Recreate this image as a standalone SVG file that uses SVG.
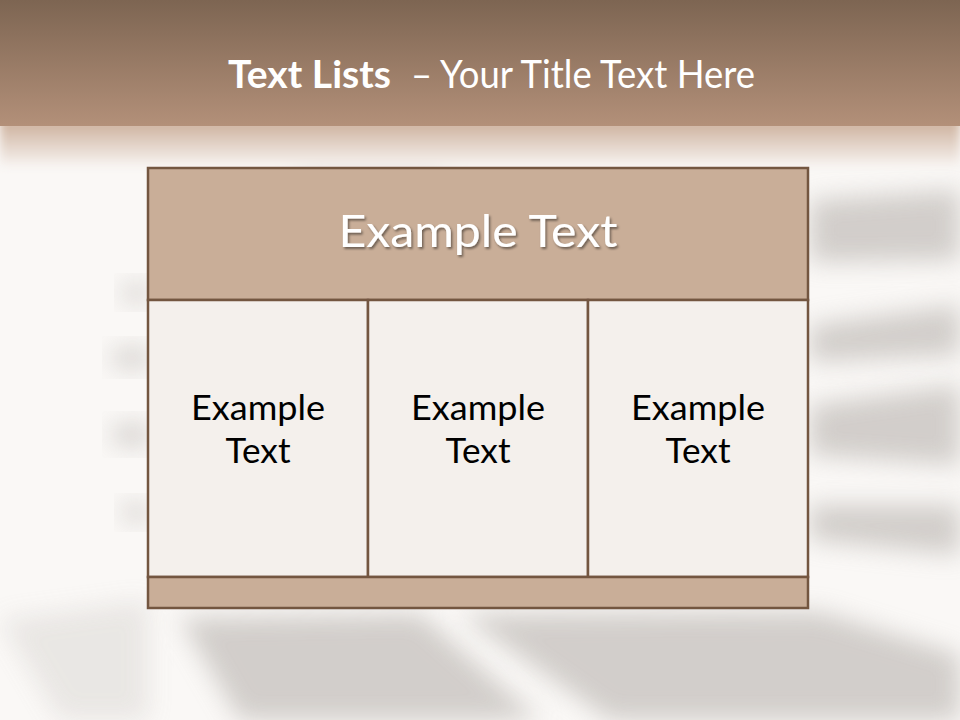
<svg xmlns="http://www.w3.org/2000/svg" width="960" height="720" viewBox="0 0 960 720">
<defs>
<linearGradient id="hdr" x1="0" y1="0" x2="0" y2="1">
<stop offset="0" stop-color="#7d6552"/>
<stop offset="1" stop-color="#b39079"/>
</linearGradient>
<linearGradient id="fade" x1="0" y1="0" x2="0" y2="1">
<stop offset="0" stop-color="#c9ab95"/>
<stop offset="1" stop-color="#f7f3f0"/>
</linearGradient>
<filter id="blur" x="-20%" y="-50%" width="140%" height="200%"><feGaussianBlur stdDeviation="12"/></filter>
<filter id="blur2" x="-20%" y="-50%" width="140%" height="200%"><feGaussianBlur stdDeviation="5"/></filter>
<filter id="shadow" x="-10%" y="-20%" width="120%" height="150%">
<feDropShadow dx="1.5" dy="2" stdDeviation="1.2" flood-color="#000" flood-opacity="0.45"/>
</filter>
<style>
.cell{fill:#f4f0ec;stroke:#735640;stroke-width:2.5}
.band{fill:#c9ae98;stroke:#735640;stroke-width:2.5}
.t{font-family:Lato,"Open Sans",sans-serif;text-anchor:middle}
.ct{font-size:34px;fill:#000}
.st{fill:#c4c0bc;filter:url(#blur)}
</style>
</defs>
<rect width="960" height="720" fill="#faf8f6"/>
<g opacity="0.75">
<path class="st" d="M810 200 L960 190 L960 260 L810 262 Z"/>
<path class="st" d="M810 325 L960 305 L960 355 L810 362 Z"/>
<path class="st" d="M810 405 L960 385 L960 465 L810 455 Z"/>
<path class="st" d="M810 505 L960 505 L960 555 L810 540 Z"/>
<path class="st" d="M120 288 L148 283 L148 302 L125 300 Z"/>
<path class="st" d="M110 352 L148 347 L148 368 L115 366 Z"/>
<path class="st" d="M110 428 L148 423 L148 446 L115 443 Z"/>
<path class="st" d="M120 507 L148 503 L148 522 L125 519 Z"/>
<path class="st" d="M180 618 L420 614 L540 720 L240 720 Z"/>
<path class="st" d="M460 614 L820 612 L960 655 L960 720 L610 720 Z"/>
<path class="st" d="M0 620 L148 600 L148 720 L60 720 Z" opacity="0.4"/>
<path class="st" d="M290 130 L460 128 L440 165 L300 165 Z" opacity="0.6"/>
</g>
<rect x="0" y="118" width="960" height="48" fill="url(#fade)" filter="url(#blur2)"/>
<rect x="0" y="0" width="960" height="126" fill="url(#hdr)"/>
<text font-family="Lato,'Open Sans',sans-serif" font-size="38" fill="#fff" y="88"><tspan x="228" font-weight="bold" textLength="163" lengthAdjust="spacingAndGlyphs">Text Lists</tspan><tspan x="411" textLength="344" lengthAdjust="spacingAndGlyphs">– Your Title Text Here</tspan></text>
<g id="header">
<rect class="band" x="148" y="168" width="660" height="132"/>
<text class="t" x="478" y="247" font-size="44" fill="#fff" filter="url(#shadow)" textLength="279" lengthAdjust="spacingAndGlyphs">Example Text</text>
</g>
<g id="cell1">
<rect class="cell" x="148" y="300" width="220" height="277"/>
<text class="t ct" x="258" y="420" textLength="134" lengthAdjust="spacingAndGlyphs">Example</text>
<text class="t ct" x="258" y="463" textLength="65" lengthAdjust="spacingAndGlyphs">Text</text>
</g>
<g id="cell2">
<rect class="cell" x="368" y="300" width="220" height="277"/>
<text class="t ct" x="478" y="420" textLength="134" lengthAdjust="spacingAndGlyphs">Example</text>
<text class="t ct" x="478" y="463" textLength="65" lengthAdjust="spacingAndGlyphs">Text</text>
</g>
<g id="cell3">
<rect class="cell" x="588" y="300" width="220" height="277"/>
<text class="t ct" x="698" y="420" textLength="134" lengthAdjust="spacingAndGlyphs">Example</text>
<text class="t ct" x="698" y="463" textLength="65" lengthAdjust="spacingAndGlyphs">Text</text>
</g>
<g id="footer">
<rect class="band" x="148" y="577" width="660" height="31"/>
</g>
<g id="connectors"/>
</svg>
